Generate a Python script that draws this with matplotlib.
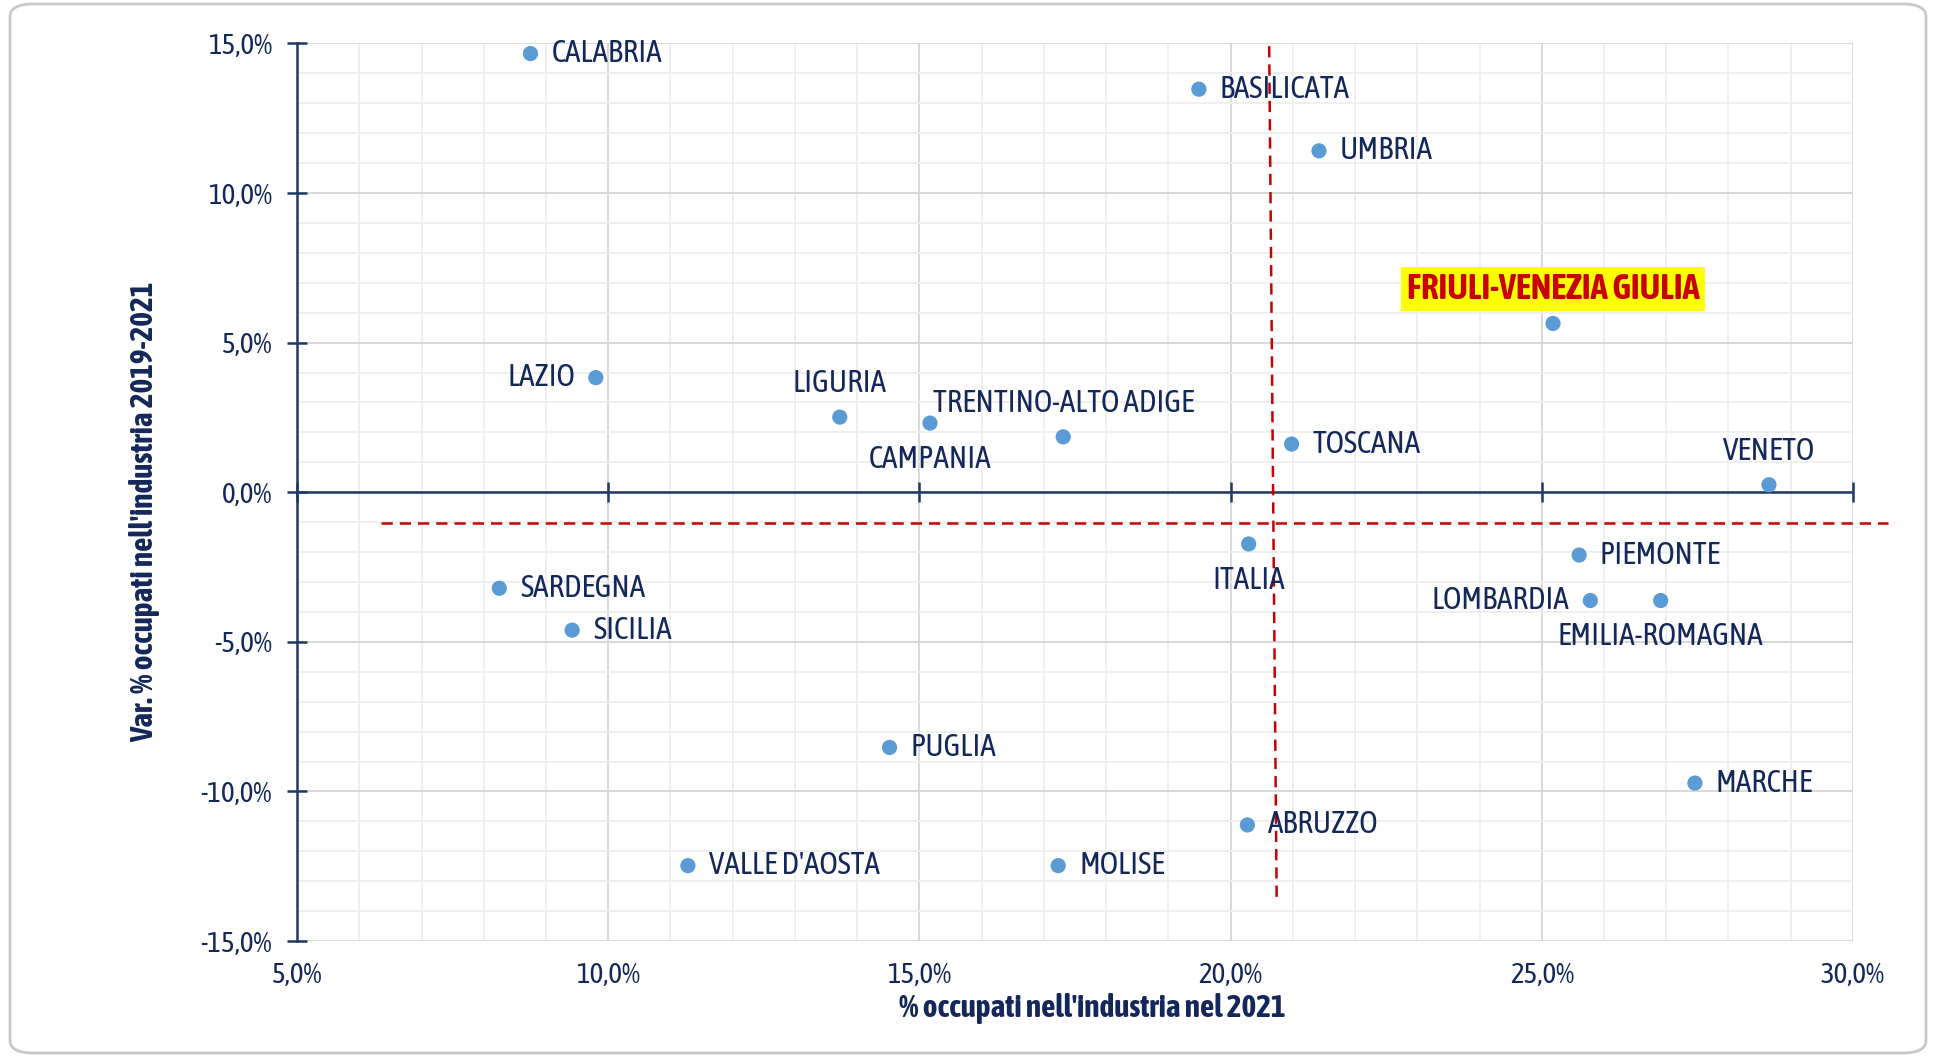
import numpy as np
import matplotlib
matplotlib.use("Agg")
import matplotlib.pyplot as plt
from matplotlib import font_manager
from matplotlib.patches import FancyBboxPatch
from matplotlib.ticker import MultipleLocator, FuncFormatter

# cerca un font stretto (tipo Arial Narrow) con variante grassetto
fonts = font_manager.fontManager.ttflist
stretti = sorted({f.name for f in fonts if "Narrow" in f.name or "Condensed" in f.name})
con_bold = [n for n in stretti
            if any(f.name == n and f.weight in (600, 700, "bold", "semibold") for f in fonts)]
preferiti = [n for n in con_bold if "Liberation" in n] + con_bold + stretti
plt.rcParams['font.family'] = preferiti[:1] + ['Liberation Sans', 'DejaVu Sans']

# dati (valori in %)
regioni = ["CALABRIA", "BASILICATA", "UMBRIA", "FRIULI-VENEZIA GIULIA", "LAZIO",
           "LIGURIA", "CAMPANIA", "TRENTINO-ALTO ADIGE", "TOSCANA", "VENETO",
           "ITALIA", "PIEMONTE", "LOMBARDIA", "EMILIA-ROMAGNA", "SARDEGNA",
           "SICILIA", "PUGLIA", "MARCHE", "ABRUZZO", "VALLE D'AOSTA", "MOLISE"]
occ_industria_2021 = [8.75, 19.49, 21.42, 25.18, 9.80,
                      13.72, 15.17, 17.31, 20.98, 28.65,
                      20.29, 25.60, 25.78, 26.91, 8.25,
                      9.42, 14.52, 27.46, 20.27, 11.28, 17.23]
var_2019_2021 = [14.66, 13.47, 11.41, 5.64, 3.83,
                 2.51, 2.31, 1.85, 1.61, 0.25,
                 -1.73, -2.10, -3.62, -3.62, -3.21,
                 -4.61, -8.53, -9.72, -11.12, -12.48, -12.48]
# posizione etichetta rispetto al punto
pos_etichetta = ["right", "right", "right", "above", "left",
                 "above", "below", "above", "right", "above",
                 "below", "right", "left", "below", "right",
                 "right", "right", "right", "right", "right", "right"]

# linee di riferimento tratteggiate
rif_x_alto, rif_x_basso = 20.62, 20.74
rif_y_alto, rif_y_basso = 14.91, -13.55
rif_y = -1.03
rif_y_da, rif_y_a = 6.35, 30.56

navy = "#14275a"
axis_col = "#203864"
blu = "#5b9bd5"
rosso = "#c80000"

if stretti:
    fs_et, fs_tick, fs_lab, fs_fvg = 22.5, 21, 22.5, 25
else:
    fs_et, fs_tick, fs_lab, fs_fvg = 17, 17, 18, 19

fig = plt.figure(figsize=(19.34, 10.59), dpi=100)
ax = fig.add_axes([0.1536, 0.1114, 0.8045, 0.8476])

ax.set_xlim(5, 30)
ax.set_ylim(-15, 15)
ax.xaxis.set_major_locator(MultipleLocator(5))
ax.yaxis.set_major_locator(MultipleLocator(5))
ax.xaxis.set_minor_locator(MultipleLocator(1))
ax.yaxis.set_minor_locator(MultipleLocator(1))
fmt = FuncFormatter(lambda v, p: f"{v:.1f}%".replace(".", ","))
ax.xaxis.set_major_formatter(fmt)
ax.yaxis.set_major_formatter(fmt)

ax.grid(which="minor", color="#eeeeee", linewidth=1.3, zorder=0)
ax.grid(which="major", color="#d6d6d6", linewidth=1.3, zorder=0)
ax.set_axisbelow(True)

for s in ["top", "right", "bottom"]:
    ax.spines[s].set_visible(False)
ax.spines["left"].set_color(axis_col)
ax.spines["left"].set_linewidth(1.8)

ax.tick_params(axis="y", which="major", direction="inout", length=14, width=1.8,
               color=axis_col, labelsize=fs_tick, labelcolor=navy, pad=11)
ax.tick_params(axis="x", which="major", length=0, labelsize=fs_tick, labelcolor=navy, pad=15)
ax.tick_params(which="minor", length=0)

# asse x che passa per lo zero
ax.axhline(0, color=axis_col, linewidth=1.8, zorder=2)
xt = ax.get_xticks()
ax.plot(xt, np.zeros_like(xt), ls="none", marker="|", ms=14, mew=1.8,
        color=axis_col, zorder=2, clip_on=False)

# linee di riferimento
ax.plot([rif_x_alto, rif_x_basso], [rif_y_alto, rif_y_basso], color=rosso,
        linewidth=1.8, dashes=(4.5, 2.8), clip_on=False, zorder=3)
ax.plot([rif_y_da, rif_y_a], [rif_y, rif_y], color=rosso,
        linewidth=1.8, dashes=(4.5, 2.8), clip_on=False, zorder=3)

ax.scatter(occ_industria_2021, var_2019_2021, s=120, color=blu, zorder=4,
           edgecolors="none")

for nome, x, y, p in zip(regioni, occ_industria_2021, var_2019_2021, pos_etichetta):
    if p == "right":
        off, ha, va = (15, 0), "left", "center"
    elif p == "left":
        off, ha, va = (-15, 0), "right", "center"
    elif p == "above":
        off, ha, va = (0, 24), "center", "center"
    else:
        off, ha, va = (0, -26), "center", "center"
    if nome == "FRIULI-VENEZIA GIULIA":
        ax.annotate(nome, (x, y), xytext=(0, 25), textcoords="offset points",
                    ha="center", va="center", fontsize=fs_fvg, fontweight="bold",
                    color=rosso, zorder=5,
                    bbox=dict(boxstyle="square,pad=0.15", fc="#ffff00", ec="none"))
    else:
        ax.annotate(nome, (x, y), xytext=off, textcoords="offset points",
                    ha=ha, va=va, fontsize=fs_et, color=navy, zorder=5)

ax.set_xlabel("% occupati nell'industria nel 2021", fontsize=fs_lab, fontweight="bold",
              color=navy)
ax.set_ylabel("Var. % occupati nell'industria 2019-2021", fontsize=fs_lab,
              fontweight="bold", color=navy)
ax.xaxis.set_label_coords(0.511, -0.058)
ax.yaxis.set_label_coords(-0.088, 0.478)

# cornice arrotondata
W, H = 1934, 1059
bordo = FancyBboxPatch((10 / W, 6 / H), 1916 / W, 1049 / H,
                       boxstyle="round,pad=0,rounding_size=0.012",
                       transform=fig.transFigure, fc="none", ec="#c8c8c8",
                       linewidth=2, zorder=-1)
fig.patches.append(bordo)

fig.savefig("out.png", dpi=100)
